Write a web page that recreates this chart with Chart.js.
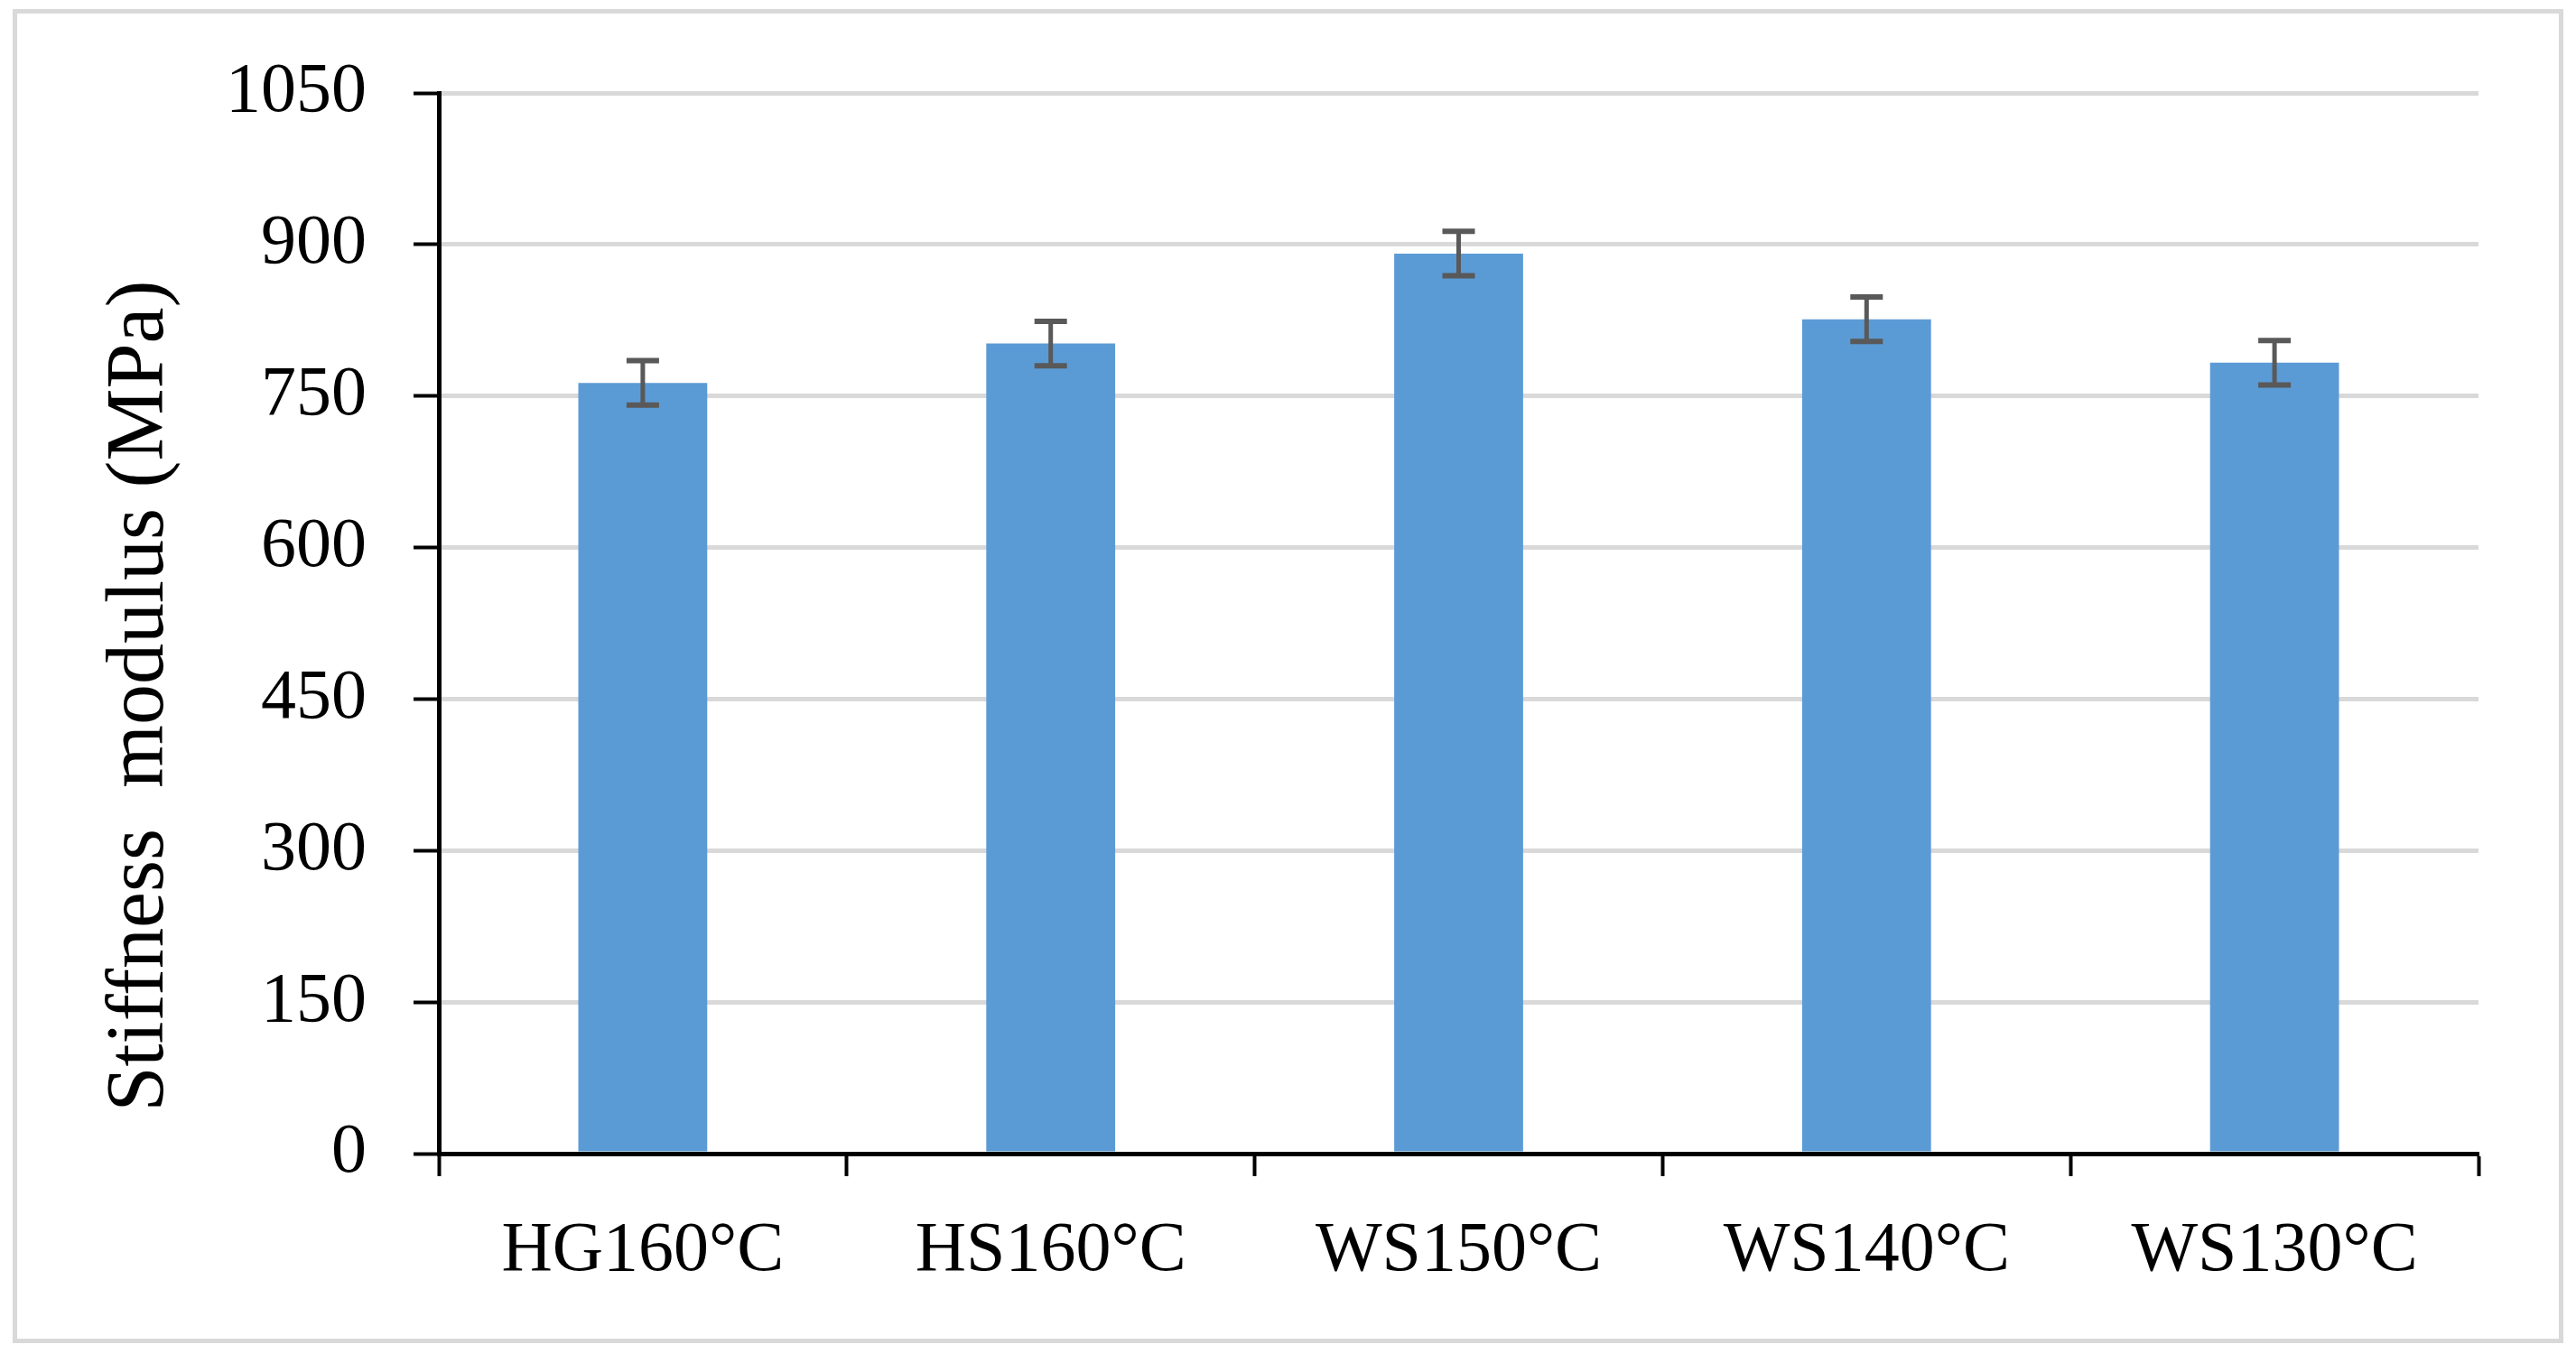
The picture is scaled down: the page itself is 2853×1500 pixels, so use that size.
<!DOCTYPE html>
<html>
<head>
<meta charset="utf-8">
<script src="https://cdn.jsdelivr.net/npm/chart.js"></script>
<style>
  html, body { margin: 0; padding: 0; background: #fff; }
  #wrap { position: relative; width: 2853px; height: 1500px; }
  #frame {
    position: absolute; left: 14px; top: 10px; width: 2825px; height: 1478px;
    box-sizing: border-box; border: 5px solid #d9d9d9; pointer-events: none;
  }
  canvas { position: absolute; left: 0; top: 0; }
</style>
</head>
<body>
<div id="wrap">
  <canvas id="chart" width="2853" height="1500"></canvas>
  <div id="frame"></div>
</div>
<script>
// Data
const categories = ['HG160°C', 'HS160°C', 'WS150°C', 'WS140°C', 'WS130°C'];
const stiffness = [763, 802, 891, 826, 783];
const errors = [22, 22, 22, 22, 22];
const yTicks = [0, 150, 300, 450, 600, 750, 900, 1050];
const yTitle = 'Stiffness  modulus (MPa)';

const serif = '"Liberation Serif", "DejaVu Serif", serif';

// error bars drawn from the y scale
const errorBars = {
    id: 'errorBars',
    afterDatasetsDraw(chart) {
        const ctx = chart.ctx;
        const y = chart.scales.y;
        const meta = chart.getDatasetMeta(0);
        ctx.save();
        ctx.strokeStyle = '#595959';
        meta.data.forEach((bar, i) => {
            const top = y.getPixelForValue(stiffness[i] + errors[i]);
            const bottom = y.getPixelForValue(stiffness[i] - errors[i]);
            ctx.lineWidth = 5;
            ctx.beginPath();
            ctx.moveTo(bar.x, top);
            ctx.lineTo(bar.x, bottom);
            ctx.stroke();
            ctx.lineWidth = 6;
            ctx.beginPath();
            ctx.moveTo(bar.x - 18, top);
            ctx.lineTo(bar.x + 18, top);
            ctx.moveTo(bar.x - 18, bottom);
            ctx.lineTo(bar.x + 18, bottom);
            ctx.stroke();
        });
        ctx.restore();
    }
};

// y title, sits a bit below the axis centre like the original
const sideTitle = {
    id: 'sideTitle',
    afterDraw(chart) {
        const ctx = chart.ctx;
        ctx.save();
        ctx.translate(180, 771);
        ctx.rotate(-Math.PI / 2);
        ctx.font = '90px ' + serif;
        ctx.fillStyle = '#000';
        ctx.textAlign = 'center';
        ctx.textBaseline = 'alphabetic';
        ctx.fillText(yTitle, 0, 0);
        ctx.restore();
    }
};

new Chart(document.getElementById('chart'), {
    type: 'bar',
    data: {
        labels: categories,
        datasets: [{
            data: stiffness,
            backgroundColor: '#5B9BD5',
            barPercentage: 0.316,
            categoryPercentage: 1
        }]
    },
    options: {
        responsive: false,
        animation: false,
        layout: { padding: { left: 0, top: 103, right: 108, bottom: 0 } },
        plugins: {
            legend: { display: false },
            tooltip: { enabled: false },
            title: { display: false }
        },
        scales: {
            x: {
                afterFit: (s) => { s.height = 222; },
                grid: {
                    drawOnChartArea: false,
                    drawTicks: true,
                    tickLength: 25,
                    tickColor: '#000',
                    tickWidth: 4,
                    offset: true
                },
                border: { color: '#000', width: 5 },
                ticks: {
                    color: '#000',
                    padding: 37,
                    maxRotation: 0,
                    font: { family: serif, size: 78 }
                }
            },
            y: {
                min: 0,
                max: 1050,
                afterFit: (s) => { s.width = 486; },
                afterBuildTicks: (s) => { s.ticks = yTicks.map(v => ({ value: v })); },
                grid: {
                    color: '#d9d9d9',
                    lineWidth: 5,
                    drawTicks: true,
                    tickLength: 28,
                    tickColor: '#000',
                    tickWidth: 4
                },
                border: { color: '#000', width: 5 },
                ticks: {
                    color: '#000',
                    padding: 52,
                    font: { family: serif, size: 78 },
                    callback: (v) => String(v)
                }
            }
        }
    },
    plugins: [errorBars, sideTitle]
});
</script>
</body>
</html>
